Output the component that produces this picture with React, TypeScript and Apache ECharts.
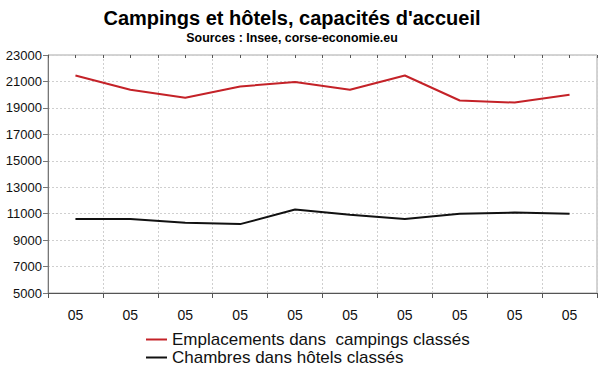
import React, { useEffect, useRef } from "react";
import * as echarts from "echarts";

const categories = ["05", "05", "05", "05", "05", "05", "05", "05", "05", "05"];
const campings = [21450, 20370, 19760, 20620, 20950, 20370, 21450, 19560, 19400, 19990];
const hotels = [10600, 10600, 10310, 10210, 11310, 10920, 10600, 11000, 11080, 11000];
const seriesNames = ["Emplacements dans  campings classés", "Chambres dans hôtels classés"];
const titleText = "Campings et hôtels, capacités d'accueil";
const subtitleText = "Sources : Insee, corse-economie.eu";

const FONT = "'Liberation Sans', Arial, sans-serif";

export default function App() {
  const ref = useRef<HTMLDivElement>(null);
  useEffect(() => {
    if (!ref.current) return;
    const chart = echarts.init(ref.current, null, { renderer: "svg" });
    chart.setOption({
      animation: false,
      backgroundColor: "#ffffff",
      textStyle: { fontFamily: FONT },
      title: [
        {
          text: titleText,
          left: 292,
          top: 8,
          textAlign: "center",
          padding: 0,
          textStyle: { fontSize: 20, fontWeight: "bold", color: "#000", fontFamily: FONT },
        },
        {
          text: subtitleText,
          left: 292,
          top: 32,
          textAlign: "center",
          padding: 0,
          textStyle: { fontSize: 12.4, fontWeight: "bold", color: "#000", fontFamily: FONT },
        },
      ],
      legend: {
        orient: "vertical",
        left: 146,
        top: 331,
        padding: 0,
        itemGap: 1,
        itemWidth: 21,
        itemHeight: 2,
        icon: "rect",
        textStyle: { fontSize: 17, color: "#111", fontFamily: FONT, lineHeight: 17 },
        data: seriesNames,
      },
      grid: {
        left: 48,
        right: 3,
        top: 55,
        bottom: 79,
        show: true,
        borderColor: "#a8a8a8",
        borderWidth: 1,
        containLabel: false,
      },
      xAxis: [
        {
          type: "category",
          data: categories,
          boundaryGap: true,
          axisLine: { show: true, lineStyle: { color: "#555", width: 1 } },
          axisTick: { show: true, inside: false, length: 5, lineStyle: { color: "#555" } },
          axisLabel: { fontSize: 14, color: "#111", margin: 15, fontFamily: FONT, interval: 0 },
          splitLine: { show: true, lineStyle: { color: "#cfcfcf", type: [2, 2] } },
        },
        {
          type: "category",
          data: categories,
          boundaryGap: true,
          axisLine: { show: false },
          axisTick: { show: true, inside: true, length: 3, lineStyle: { color: "#555" } },
          axisLabel: { show: false },
          splitLine: { show: false },
        },
        {
          type: "category",
          data: categories,
          boundaryGap: true,
          axisLine: { show: false },
          axisTick: { show: true, inside: true, alignWithLabel: true, length: 3, interval: 0, lineStyle: { color: "#555" } },
          axisLabel: { show: false },
          splitLine: { show: false },
        },
      ],
      yAxis: {
        type: "value",
        min: 5000,
        max: 23000,
        interval: 2000,
        axisLine: { show: true, lineStyle: { color: "#777", width: 1 } },
        axisTick: { show: true, length: 5, lineStyle: { color: "#777" } },
        axisLabel: {
          fontSize: 13,
          color: "#111",
          margin: 6,
          fontFamily: FONT,
          formatter: (v: number) => String(v),
        },
        splitLine: { show: true, lineStyle: { color: "#cfcfcf", type: [2, 2] } },
      },
      series: [
        {
          name: seriesNames[0],
          type: "line",
          data: campings,
          symbol: "none",
          lineStyle: { color: "#c42228", width: 2 },
          itemStyle: { color: "#c42228" },
        },
        {
          name: seriesNames[1],
          type: "line",
          data: hotels,
          symbol: "none",
          lineStyle: { color: "#111111", width: 2 },
          itemStyle: { color: "#111111" },
        },
      ],
    });
    return () => chart.dispose();
  }, []);
  return <div ref={ref} style={{ width: 600, height: 372, position: "absolute", left: 0, top: 0 }} />;
}
